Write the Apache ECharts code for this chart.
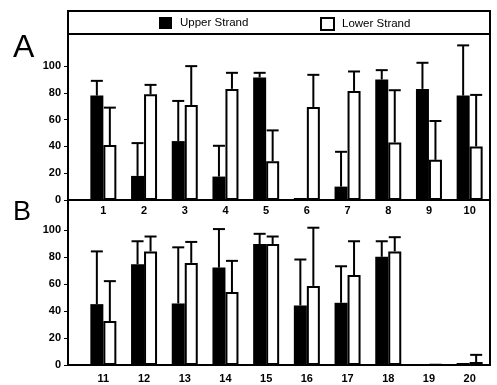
<!DOCTYPE html>
<html><head><meta charset="utf-8">
<script src="https://cdn.jsdelivr.net/npm/echarts@6/dist/echarts.min.js"></script>
<style>html,body{margin:0;padding:0;background:#fff}#c{width:497px;height:385px}</style>
</head><body><div id="c"></div>
<script>
const catsA = ['1','2','3','4','5','6','7','8','9','10'];
const catsB = ['11','12','13','14','15','16','17','18','19','20'];
const yTicks = [0, 20, 40, 60, 80, 100];
const upperA    = [78, 18, 44, 17.5, 91.5, 1.5, 10, 90, 83, 78];
const upperAErr = [89, 42.5, 74, 40.5, 95, 1.5, 36, 97, 102.5, 115.5];
const lowerA    = [41, 79, 71, 83, 29, 69.5, 81.5, 43, 30, 40];
const lowerAErr = [69, 86, 100, 95, 52, 93.5, 96, 82, 59, 78.5];
const upperB    = [45, 74.5, 45.5, 72, 89.5, 44, 46, 80, 0.5, 1.5];
const upperBErr = [84, 91.5, 87, 100.5, 97, 78, 73, 91.5, 0.5, 1.5];
const lowerB    = [32.5, 84, 75.5, 54, 89.5, 58.5, 66.5, 84, 0.5, 2.2];
const lowerBErr = [62, 95, 91, 77, 95, 101.5, 91.5, 94.5, 0.5, 7.5];

const FONT = "'Liberation Sans', Arial, sans-serif";
const BW = 13;

function errSeries(vals, errs, axisIdx, offset) {
  return {
    type: 'custom',
    xAxisIndex: axisIdx, yAxisIndex: axisIdx,
    z: 5,
    silent: true,
    data: vals.map((v, i) => [i, v, errs[i]]),
    renderItem: function (params, api) {
      const v = api.value(1), e = api.value(2);
      if (e <= v) return null;
      const p0 = api.coord([api.value(0), v]);
      const p1 = api.coord([api.value(0), e]);
      const x = p0[0] + offset;
      const st = { stroke: '#000', lineWidth: 2 };
      return { type: 'group', children: [
        { type: 'line', shape: { x1: x, y1: p0[1], x2: x, y2: p1[1] }, style: st },
        { type: 'line', shape: { x1: x - 6, y1: p1[1], x2: x + 6, y2: p1[1] }, style: st }
      ]};
    }
  };
}

const chart = echarts.init(document.getElementById('c'), null, { renderer: 'canvas' });
const yAxisBase = (max) => ({
  type: 'value', min: 0, max: max, offset: 15,
  axisLine: { show: true, lineStyle: { color: '#000', width: 2 } },
  axisTick: { show: true, length: 4, customValues: yTicks, lineStyle: { color: '#000', width: 1 } },
  axisLabel: { customValues: yTicks, margin: 7, color: '#000', fontFamily: FONT, fontSize: 11, fontWeight: 'bold' },
  splitLine: { show: false }
});
const xAxisBase = (cats, margin) => ({
  type: 'category', data: cats,
  axisLine: { show: true, lineStyle: { color: '#000', width: 2 } },
  axisTick: { show: false },
  axisLabel: { margin: margin, color: '#000', fontFamily: FONT, fontSize: 11, fontWeight: 'bold' }
});
const whiteStyle = { color: '#fff', borderColor: '#000', borderWidth: 2 };

chart.setOption({
  backgroundColor: '#fff',
  animation: false,
  title: [
    { text: 'A', left: 13, top: 32, padding: 0, textStyle: { fontFamily: FONT, fontSize: 32, fontWeight: 'normal', color: '#000' } },
    { text: 'B', left: 13, top: 199, padding: 0, textStyle: { fontFamily: FONT, fontSize: 27, fontWeight: 'normal', color: '#000' } }
  ],
  legend: [
    { left: 159, top: 17, padding: 0, itemWidth: 13, itemHeight: 12, selectedMode: false,
      data: [{ name: 'Upper Strand', icon: 'rect', itemStyle: { color: '#000' } }],
      textStyle: { fontFamily: FONT, fontSize: 11.5, color: '#000', padding: [0, 0, 0, 3] } },
    { left: 320, top: 17, padding: 0, itemWidth: 13, itemHeight: 12, selectedMode: false,
      data: [{ name: 'Lower Strand', icon: 'rect', itemStyle: whiteStyle }],
      textStyle: { fontFamily: FONT, fontSize: 11.5, color: '#000', padding: [0, 0, 0, 3] } }
  ],
  grid: [
    { left: 83, right: 7, top: 34, height: 166 },
    { left: 83, right: 7, top: 200, height: 165 }
  ],
  xAxis: [ Object.assign({ gridIndex: 0 }, xAxisBase(catsA, 5)), Object.assign({ gridIndex: 1 }, xAxisBase(catsB, 8)) ],
  yAxis: [ Object.assign({ gridIndex: 0 }, yAxisBase(124)), Object.assign({ gridIndex: 1 }, yAxisBase(122)) ],
  graphic: [
    { type: 'rect', shape: { x: 68, y: 11, width: 422, height: 354 }, style: { fill: 'none', stroke: '#000', lineWidth: 2 }, z: 10 },
    { type: 'line', shape: { x1: 68, y1: 34, x2: 490, y2: 34 }, style: { stroke: '#000', lineWidth: 2 }, z: 10 },
    { type: 'line', shape: { x1: 68, y1: 200, x2: 490, y2: 200 }, style: { stroke: '#000', lineWidth: 2 }, z: 10 }
  ],
  series: [
    { name: 'Upper Strand', type: 'bar', xAxisIndex: 0, yAxisIndex: 0, data: upperA, barWidth: BW, barGap: '0%', itemStyle: { color: '#000' } },
    { name: 'Lower Strand', type: 'bar', xAxisIndex: 0, yAxisIndex: 0, data: lowerA, barWidth: BW, barGap: '0%', itemStyle: whiteStyle },
    { name: 'Upper Strand', type: 'bar', xAxisIndex: 1, yAxisIndex: 1, data: upperB, barWidth: BW, barGap: '0%', itemStyle: { color: '#000' } },
    { name: 'Lower Strand', type: 'bar', xAxisIndex: 1, yAxisIndex: 1, data: lowerB, barWidth: BW, barGap: '0%', itemStyle: whiteStyle },
    errSeries(upperA, upperAErr, 0, -BW / 2),
    errSeries(lowerA, lowerAErr, 0, BW / 2),
    errSeries(upperB, upperBErr, 1, -BW / 2),
    errSeries(lowerB, lowerBErr, 1, BW / 2)
  ]
});
</script>
</body></html>
